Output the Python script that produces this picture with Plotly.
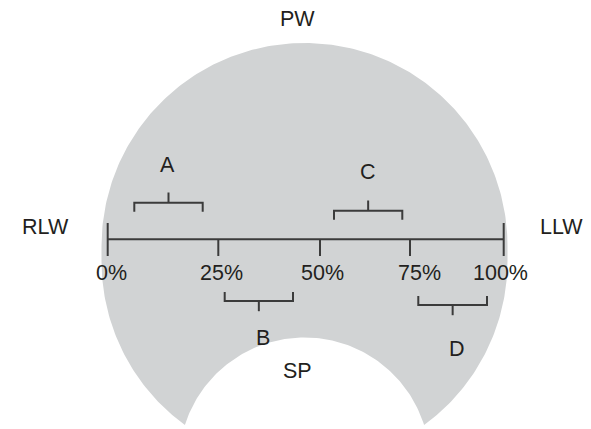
import numpy as np
import plotly.graph_objects as go

# ---- data ----
tick_labels = ["0%", "25%", "50%", "75%", "100%"]
tick_x = [107.7, 218.3, 320.0, 410.0, 503.7]
tick_label_x = [111.2, 221.3, 322.7, 419.5, 500.5]

bracket_names = ["A", "B", "C", "D"]
bracket_x0 = [134.3, 224.7, 334.0, 418.3]
bracket_x1 = [202.7, 293.0, 402.3, 487.0]
bracket_side = ["above", "below", "above", "below"]
bracket_y = [202.7, 301.0, 210.7, 305.0]
bracket_label_xy = [(167.7, 165.0), (262.7, 338.0), (367.5, 172.0), (456.5, 349.0)]

region_labels = ["PW", "RLW", "LLW", "SP"]
region_label_xy = [(297.2, 18.7), (45.0, 227.0), (561.0, 227.0), (297.0, 371.0)]

# ---- geometry of the grey field ----
W, H = 591, 429
CX, R = 304.5, 203.0
CY_TOP, CY_BOT = 246.0, 261.0
IN_CX, IN_CY, IN_R = 304.5, 463.0, 125.5
AXIS_Y = 239.3
LINE_COLOR = "#3b3b3b"
TEXT_COLOR = "#231f20"
GREY = "#d1d3d4"
FONT = "Liberation Sans, Arial, sans-serif"

# intersection of lower outer arc and inner circle
yi = ((R**2 - IN_R**2) + (IN_CY**2 - CY_BOT**2)) / (2 * (IN_CY - CY_BOT))
dxi = np.sqrt(IN_R**2 - (yi - IN_CY) ** 2)

ta = np.arctan2(yi - CY_BOT, -dxi)
t1 = np.linspace(ta, np.pi, 60)
t2 = np.linspace(np.pi, 2 * np.pi, 200)
t3 = np.linspace(0, np.arctan2(yi - CY_BOT, dxi), 60)
xs = list(CX + R * np.cos(t1)) + list(CX + R * np.cos(t2)) + list(CX + R * np.cos(t3))
ys = list(CY_BOT + R * np.sin(t1)) + list(CY_TOP + R * np.sin(t2)) + list(CY_BOT + R * np.sin(t3))
ti0 = np.arctan2(yi - IN_CY, dxi)
ti1 = np.arctan2(yi - IN_CY, -dxi)
ti = np.linspace(ti0, ti1, 120)
xs += list(IN_CX + IN_R * np.cos(ti))
ys += list(IN_CY + IN_R * np.sin(ti))

fig = go.Figure()
fig.add_trace(go.Scatter(x=xs, y=ys, fill="toself", fillcolor=GREY, mode="lines",
                         line=dict(width=0, color=GREY), hoverinfo="skip", showlegend=False))

# axis line and ticks
lx, ly = [tick_x[0], tick_x[-1], None], [AXIS_Y, AXIS_Y, None]
for i, x in enumerate(tick_x):
    top = AXIS_Y - 16.3 if i in (0, len(tick_x) - 1) else AXIS_Y
    lx += [x, x, None]
    ly += [top, 256.0, None]

# brackets
for x0, x1, side, y in zip(bracket_x0, bracket_x1, bracket_side, bracket_y):
    s = 1 if side == "above" else -1
    xm = (x0 + x1) / 2
    lx += [x0, x0, x1, x1, None, xm, xm, None]
    ly += [y + 9 * s, y, y, y + 9 * s, None, y, y - 10.2 * s, None]

fig.add_trace(go.Scatter(x=lx, y=ly, mode="lines", line=dict(color=LINE_COLOR, width=2),
                         hoverinfo="skip", showlegend=False))

ann = []
for lab, x in zip(tick_labels, tick_label_x):
    ann.append(dict(x=x, y=272.5, text=lab))
for lab, (x, y) in zip(bracket_names, bracket_label_xy):
    ann.append(dict(x=x, y=y, text=lab))
for lab, (x, y) in zip(region_labels, region_label_xy):
    ann.append(dict(x=x, y=y, text=lab))
for a in ann:
    a.update(xref="x", yref="y", showarrow=False, xanchor="center", yanchor="middle",
             font=dict(family=FONT, size=21.5, color=TEXT_COLOR))

fig.update_layout(
    width=W, height=H, margin=dict(l=0, r=0, t=0, b=0),
    paper_bgcolor="white", plot_bgcolor="white",
    xaxis=dict(range=[0, W], visible=False, fixedrange=True),
    yaxis=dict(range=[H, 0], visible=False, fixedrange=True),
    annotations=ann, showlegend=False,
)
fig.write_html("out.html", config={"displayModeBar": False},
               post_script="document.body.style.margin='0';document.body.style.overflow='hidden';")
